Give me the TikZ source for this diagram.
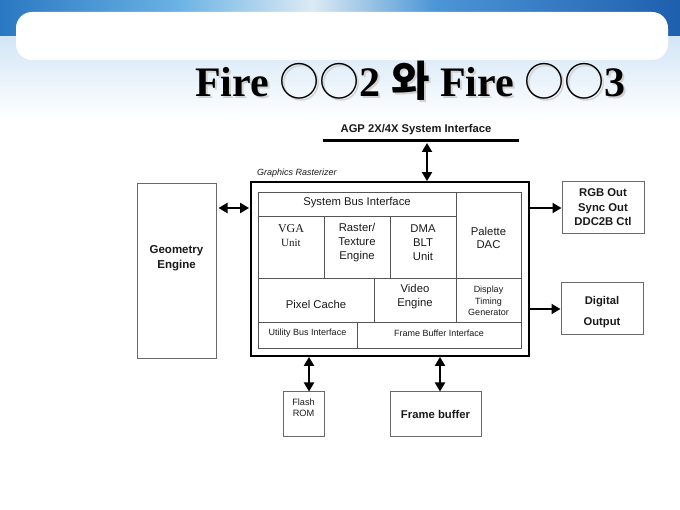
\documentclass[tikz,border=0pt]{standalone}
\usepackage{fontspec}
\setmainfont{Liberation Serif}
\setsansfont{Liberation Sans}
\newfontfamily\kr{Noto Sans CJK KR}
\usetikzlibrary{arrows.meta}
\definecolor{hA}{HTML}{2A78C2}
\definecolor{hB}{HTML}{6AB2E4}
\definecolor{hC}{HTML}{DCEAF4}
\definecolor{hD}{HTML}{4C95D6}
\definecolor{hE}{HTML}{1E5FAE}
\definecolor{bgtop}{HTML}{D2E5F6}
\definecolor{boxgray}{HTML}{6A6A6A}
\definecolor{cellgray}{HTML}{555555}
\definecolor{txt}{HTML}{1A1A1A}
\pgfdeclarehorizontalshading{hdr}{100bp}{color(0bp)=(hA); color(25bp)=(hA); color(38bp)=(hB); color(48bp)=(hC); color(57bp)=(hD); color(75bp)=(hE); color(100bp)=(hE)}
\tikzset{
  box/.style={draw=boxgray, line width=1pt, inner sep=0pt},
  cell/.style={draw=cellgray, line width=0.9pt, inner sep=0pt},
  lbl/.style={inner sep=0pt, align=center, text=txt},
  ctext/.style={lbl, font=\sffamily\fontsize{11.3}{14}\selectfont},
  stext/.style={lbl, font=\sffamily\fontsize{9.2}{11}\selectfont},
  btext/.style={lbl, font=\sffamily\bfseries\fontsize{11.3}{14.5}\selectfont},
  dblarrow/.style={{Triangle[length=9pt,width=10pt]}-{Triangle[length=9pt,width=10pt]}, line width=2pt},
  onearrow/.style={-{Triangle[length=9pt,width=10pt]}, line width=1.8pt},
  titlefont/.style={font=\fontsize{42}{46}\selectfont\bfseries},
}
\newcommand{\circs}{{\kr\mdseries\fontsize{40}{46}\selectfont ○○}}
\newcommand{\titletext}{Fire \circs2 {\kr 와} Fire \circs3}
\begin{document}
\begin{tikzpicture}[x=1pt,y=-1pt]
\useasboundingbox (0,0) rectangle (680,510);
% background
\fill[white] (0,0) rectangle (680,510);
\fill[top color=bgtop, bottom color=white] (0,35) rectangle (680,120);
\shade[shading=hdr] (0,0) rectangle (680,36);
\fill[white] (16,12) [rounded corners=16pt] rectangle (668,60);
% title (with a soft shadow)
\node[lbl, anchor=base west, text=gray!35, titlefont] at (197,98.5) {\titletext};
\node[lbl, anchor=base west, text=black, titlefont] (title) at (195,97) {\titletext};
% AGP bus
\coordinate (agpL) at (323,141);
\coordinate (agpR) at (519,141);
\draw[line width=3pt] (agpL) -- (agpR);
\node[lbl, font=\sffamily\bfseries\fontsize{11.2}{13}\selectfont] (agp) at (416,129.5) {AGP 2X/4X System Interface};
\coordinate (agpC) at (427,143);
% rasterizer
\node[lbl, anchor=base west, font=\sffamily\itshape\fontsize{9}{10}\selectfont] (grl) at (257,176) {Graphics Rasterizer};
\node[draw=black, line width=1.8pt, minimum width=278pt, minimum height=174pt, inner sep=0pt] (rast) at (390,269) {};
\node[cell, minimum width=198pt, minimum height=24pt] (sbi) at (357,204) {};
\node[ctext] (sbit) at (357,203) {System Bus Interface};
\node[cell, minimum width=66pt, minimum height=62pt] (vga) at (291,247) {};
\node[lbl, font=\rmfamily\fontsize{12}{14}\selectfont] (vgat) at (291,236) {VGA\\\fontsize{11}{14}\selectfont Unit};
\node[cell, minimum width=66pt, minimum height=62pt] (rte) at (357,247) {};
\node[ctext] (rtet) at (357,243) {Raster/\\Texture\\Engine};
\node[cell, minimum width=66pt, minimum height=62pt] (dma) at (423,247) {};
\node[ctext] (dmat) at (423,243) {DMA\\BLT\\Unit};
\node[cell, minimum width=65pt, minimum height=86pt] (pal) at (488.5,235) {};
\node[ctext, font=\sffamily\fontsize{11.3}{13}\selectfont] (palt) at (488.5,237.5) {Palette\\DAC};
\node[cell, minimum width=116pt, minimum height=44pt] (pix) at (316,300) {};
\node[ctext] (pixt) at (316,304) {Pixel Cache};
\node[cell, minimum width=82pt, minimum height=44pt] (vid) at (415,300) {};
\node[ctext] (vidt) at (415,297) {Video\\Engine};
\node[cell, minimum width=65pt, minimum height=44pt] (dtg) at (488.5,300) {};
\node[lbl, font=\sffamily\fontsize{9}{11.5}\selectfont] (dtgt) at (488.5,301) {Display\\Timing\\Generator};
\node[cell, minimum width=99pt, minimum height=26pt] (ubi) at (307.5,335) {};
\node[lbl, font=\sffamily\fontsize{9}{10}\selectfont] (ubit) at (307.5,333) {Utility Bus Interface};
\node[cell, minimum width=164pt, minimum height=26pt] (fbi) at (439,335) {};
\node[lbl, font=\sffamily\fontsize{9}{10}\selectfont] (fbit) at (439,333) {Frame Buffer Interface};
% geometry engine
\node[box, minimum width=79pt, minimum height=175pt] (geo) at (176.5,271.5) {};
\node[lbl, font=\sffamily\bfseries\fontsize{11.5}{15}\selectfont] (geot) at (176.5,258.5) {Geometry\\Engine};
% outputs
\node[box, minimum width=82pt, minimum height=52pt] (rgb) at (603,208) {};
\node[btext] (rgbt) at (603,207.5) {RGB Out\\Sync Out\\DDC2B Ctl};
\node[box, minimum width=82pt, minimum height=52pt] (dig) at (602,309) {};
\node[btext, font=\sffamily\bfseries\fontsize{11.2}{21}\selectfont] (digt) at (602,312.5) {Digital\\Output};
% memories
\node[box, minimum width=41pt, minimum height=44pt] (flash) at (303.5,414) {};
\node[stext] (flasht) at (303.5,408) {Flash\\ROM};
\node[box, minimum width=91pt, minimum height=44pt] (fbuf) at (435.5,414) {};
\node[btext] (fbuft) at (435.5,414.5) {Frame buffer};
% connectors
\draw[dblarrow] (agpC) -- (agpC |- rast.north);
\draw[dblarrow] ([xshift=2pt]geo.east |- rgb.west) -- ([xshift=-1pt]rast.west |- rgb.west);
\draw[onearrow] (rast.east |- rgb.west) -- (rgb.west);
\draw[onearrow] (rast.east |- dig.west) -- (dig.west);
\draw[dblarrow] ([xshift=5.5pt]flash.north) -- ([xshift=5.5pt]flash.north |- rast.south);
\draw[dblarrow] ([xshift=4.5pt]fbuf.north) -- ([xshift=4.5pt]fbuf.north |- rast.south);
\end{tikzpicture}
\end{document}
